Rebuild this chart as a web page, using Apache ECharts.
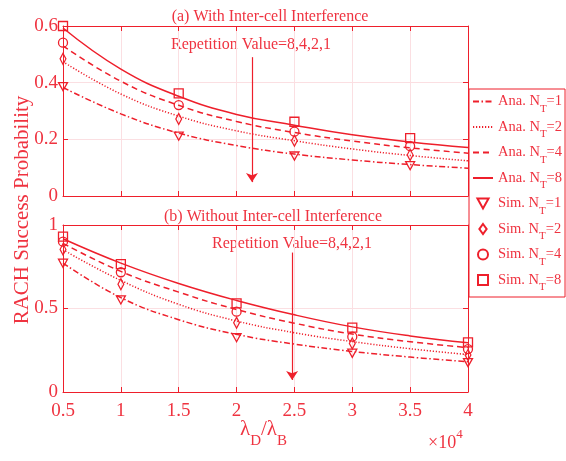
<!DOCTYPE html>
<html>
<head>
<meta charset="utf-8">
<script src="https://cdn.jsdelivr.net/npm/echarts@6/dist/echarts.min.js"></script>
<style>
  html, body { margin: 0; padding: 0; background: #fff; }
  #chart { width: 566px; height: 461px; }
</style>
</head>
<body>
<div id="chart"></div>
<script>
// Normalised density ratio (x 10^4)
const xs = [0.5, 1, 1.5, 2, 2.5, 3, 3.5, 4];
const xTickLabels = ['0.5', '1', '1.5', '2', '2.5', '3', '3.5', '4'];

// (a) analytical curves, with inter-cell interference
const anaA1 = [0.383, 0.290, 0.222, 0.178, 0.148, 0.127, 0.111, 0.098];
const anaA2 = [0.474, 0.360, 0.282, 0.230, 0.195, 0.166, 0.143, 0.124];
const anaA4 = [0.530, 0.405, 0.320, 0.263, 0.224, 0.194, 0.170, 0.151];
const anaA8 = [0.593, 0.448, 0.352, 0.288, 0.250, 0.216, 0.191, 0.171];

// (a) simulation points
const simAx = [0.5, 1.5, 2.5, 3.5];
const simA1 = [0.386, 0.211, 0.141, 0.107];
const simA2 = [0.484, 0.272, 0.195, 0.145];
const simA4 = [0.541, 0.321, 0.227, 0.176];
const simA8 = [0.600, 0.362, 0.262, 0.204];

// (b) analytical curves, without inter-cell interference
const anaB1 = [0.772, 0.565, 0.433, 0.345, 0.287, 0.243, 0.209, 0.181];
const anaB2 = [0.852, 0.668, 0.525, 0.425, 0.355, 0.302, 0.259, 0.224];
const anaB4 = [0.890, 0.722, 0.598, 0.494, 0.412, 0.347, 0.301, 0.266];
const anaB8 = [0.918, 0.772, 0.650, 0.548, 0.462, 0.390, 0.336, 0.295];

// (b) simulation points
const simBx = [0.5, 1, 2, 3, 4];
const simB1 = [0.771, 0.551, 0.325, 0.232, 0.176];
const simB2 = [0.854, 0.645, 0.415, 0.291, 0.222];
const simB4 = [0.900, 0.717, 0.481, 0.331, 0.257];
const simB8 = [0.930, 0.766, 0.531, 0.385, 0.297];

const yTicksA = [0, 0.2, 0.4, 0.6];
const yTicksB = [0, 0.5, 1];

const anaNames = ['Ana. N_T=1', 'Ana. N_T=2', 'Ana. N_T=4', 'Ana. N_T=8'];
const simNames = ['Sim. N_T=1', 'Sim. N_T=2', 'Sim. N_T=4', 'Sim. N_T=8'];

const RED = '#ee1f2b';
const TXT = '#ef3340';
const GRIDC = '#fbdfe2';
const FONT = '"Liberation Serif", "DejaVu Serif", serif';

const dashStyles = [[6, 2.5, 1.5, 2.5], [1.2, 1.8], [6, 4], 'solid'];
const simSymbols = [
  'path://M0,0L10,0L5,9Z',          // downward triangle
  'path://M4,0L8,5.5L4,11L0,5.5Z',  // diamond
  'circle',
  'path://M0,0L10,0L10,10L0,10Z'    // square
];
const simSizes = [[9, 9], [8, 11], 9, [9, 9]];

const pair = (xv, yv) => xv.map((x, i) => [x, yv[i]]);

const chart = echarts.init(document.getElementById('chart'), null, { renderer: 'canvas' });

function xAx(grid, pos, showLabels) {
  return {
    type: 'value', gridIndex: grid, position: pos,
    min: 0.5, max: 4, interval: 0.5,
    axisLine: { show: true, onZero: false, lineStyle: { color: RED, width: 1 } },
    axisTick: { show: true, inside: true, length: 5, lineStyle: { color: RED } },
    axisLabel: {
      show: showLabels, color: TXT, fontFamily: FONT, fontSize: 19, margin: 10,
      formatter: v => xTickLabels[xs.indexOf(+v.toFixed(2))] ?? ''
    },
    splitLine: { show: pos === 'bottom', lineStyle: { color: GRIDC, width: 1 } }
  };
}

function yAx(grid, pos, max, interval, showLabels) {
  return {
    type: 'value', gridIndex: grid, position: pos,
    min: 0, max: max, interval: interval,
    axisLine: { show: true, onZero: false, lineStyle: { color: RED, width: 1 } },
    axisTick: { show: true, inside: true, length: 5, lineStyle: { color: RED } },
    axisLabel: {
      show: showLabels, color: TXT, fontFamily: FONT, fontSize: 19, margin: 5,
      formatter: v => String(+v.toFixed(2))
    },
    splitLine: { show: pos === 'left', lineStyle: { color: GRIDC, width: 1 } }
  };
}

const anaA = [anaA1, anaA2, anaA4, anaA8];
const anaB = [anaB1, anaB2, anaB4, anaB8];
const simA = [simA1, simA2, simA4, simA8];
const simB = [simB1, simB2, simB4, simB8];

const series = [];
[[0, anaA], [2, anaB]].forEach(([ax, sets]) => {
  anaNames.forEach((name, k) => {
    series.push({
      name, type: 'line', xAxisIndex: ax, yAxisIndex: ax,
      data: pair(xs, sets[k]), smooth: 0.45,
      symbol: 'none', z: 3,
      lineStyle: { color: RED, width: 1.5, type: dashStyles[k] },
      itemStyle: { color: RED }
    });
  });
});
simNames.forEach((name, k) => {
  [[0, simAx, simA[k]], [2, simBx, simB[k]]].forEach(([ax, xv, yv]) => {
    series.push({
      name, type: 'scatter', xAxisIndex: ax, yAxisIndex: ax,
      data: pair(xv, yv), symbol: simSymbols[k], symbolSize: simSizes[k],
      symbolKeepAspect: true, z: 4,
      itemStyle: { color: 'none', borderColor: RED, borderWidth: 1.3, opacity: 1 }
    });
  });
});

// Arrows marking the direction of decreasing repetition value
series.push({
  type: 'line', xAxisIndex: 0, yAxisIndex: 0, data: [], silent: true,
  markLine: {
    silent: true, symbol: ['none', 'arrow'], symbolSize: 9,
    label: { show: false },
    lineStyle: { color: RED, width: 1.2, type: 'solid' },
    data: [[{ coord: [2.133, 0.49] }, { coord: [2.133, 0.049] }]]
  }
});
series.push({
  type: 'line', xAxisIndex: 2, yAxisIndex: 2, data: [], silent: true,
  markLine: {
    silent: true, symbol: ['none', 'arrow'], symbolSize: 9,
    label: { show: false },
    lineStyle: { color: RED, width: 1.2, type: 'solid' },
    data: [[{ coord: [2.48, 0.835] }, { coord: [2.48, 0.072] }]]
  }
});

const legendRich = {
  a: { fontFamily: FONT, fontSize: 14.5, color: TXT, lineHeight: 20, verticalAlign: 'middle' },
  s: { fontFamily: FONT, fontSize: 11, color: TXT, lineHeight: 11, verticalAlign: 'bottom', padding: [0, 0, -3, 0] }
};
const subFmt = name => {
  const m = name.split('_');
  return '{a|' + m[0] + '}{s|' + m[1][0] + '}{a|' + m[1].slice(1) + '}';
};

// Analytical entries show only their line style in the legend
const legendData = anaNames.map(name => ({ name, itemStyle: { opacity: 0 } }))
  .concat(simNames.map(name => ({ name })));

const option = {
  animation: false,
  backgroundColor: '#fff',
  textStyle: { fontFamily: FONT },
  title: [
    {
      text: '(a) With Inter-cell Interference', left: 265, top: 4, textAlign: 'center',
      textStyle: { color: TXT, fontFamily: FONT, fontSize: 16, fontWeight: 'normal' }
    },
    {
      text: '(b) Without Inter-cell Interference', left: 268, top: 204, textAlign: 'center',
      textStyle: { color: TXT, fontFamily: FONT, fontSize: 16, fontWeight: 'normal' }
    }
  ],
  grid: [
    { left: 63, top: 26, width: 405, height: 170, show: false },
    { left: 63, top: 225, width: 405, height: 167, show: false }
  ],
  xAxis: [
    xAx(0, 'bottom', false), xAx(0, 'top', false),
    xAx(1, 'bottom', true), xAx(1, 'top', false)
  ],
  yAxis: [
    yAx(0, 'left', 0.6, 0.2, true), yAx(0, 'right', 0.6, 0.2, false),
    yAx(1, 'left', 1, 0.5, true), yAx(1, 'right', 1, 0.5, false)
  ],
  legend: {
    orient: 'vertical', left: 469, top: 89,
    data: legendData,
    itemWidth: 20, itemHeight: 10, itemGap: 5,
    padding: [5, 3, 4, 3],
    borderColor: RED, borderWidth: 1, backgroundColor: '#fff',
    selectedMode: false,
    formatter: subFmt,
    textStyle: { color: TXT, fontFamily: FONT, fontSize: 14.5, rich: legendRich }
  },
  graphic: [
    {
      type: 'text', x: 22, y: 210, rotation: Math.PI / 2,
      style: {
        text: 'RACH Success Probability', fill: TXT, font: '21px ' + FONT,
        textAlign: 'center', textVerticalAlign: 'middle'
      }
    },
    {
      type: 'text', x: 171, y: 45,
      style: {
        text: 'Repetition Value=8,4,2,1', fill: TXT, font: '16px ' + FONT,
        textVerticalAlign: 'middle'
      }
    },
    {
      type: 'text', x: 212, y: 244,
      style: {
        text: 'Repetition Value=8,4,2,1', fill: TXT, font: '16px ' + FONT,
        textVerticalAlign: 'middle'
      }
    },
    {
      type: 'text', x: 240, y: 419,
      style: {
        text: '{l|λ}{s|D}{l|/λ}{s|B}',
        rich: {
          l: { fontFamily: FONT, fontSize: 21, fill: TXT, lineHeight: 24, verticalAlign: 'top' },
          s: { fontFamily: FONT, fontSize: 15, fill: TXT, lineHeight: 15, verticalAlign: 'bottom', padding: [0, 0, -6, 0] }
        }
      }
    },
    {
      type: 'text', x: 428, y: 428,
      style: {
        text: '{m|×10}{p|4}',
        rich: {
          m: { fontFamily: FONT, fontSize: 18, fill: TXT, lineHeight: 24, verticalAlign: 'bottom' },
          p: { fontFamily: FONT, fontSize: 13, fill: TXT, lineHeight: 13, verticalAlign: 'top' }
        }
      }
    }
  ],
  series
};

chart.setOption(option);
</script>
</body>
</html>
